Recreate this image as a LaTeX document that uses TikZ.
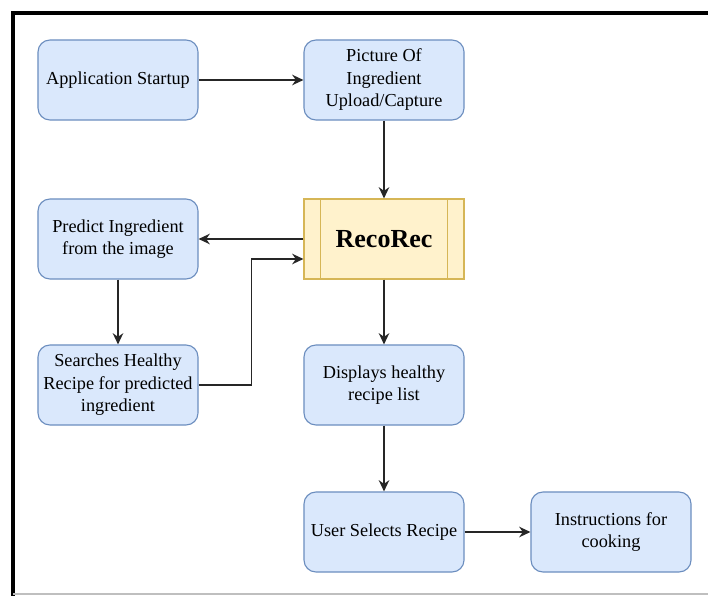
\documentclass[tikz,border=0pt]{standalone}
\usepackage{fontspec}
\setmainfont{Liberation Serif}
\usetikzlibrary{arrows.meta}
\definecolor{boxfill}{HTML}{DAE8FC}
\definecolor{boxline}{HTML}{6C8EBF}
\definecolor{corefill}{HTML}{FFF2CC}
\definecolor{coreline}{HTML}{D6B656}
\begin{document}
\begin{tikzpicture}[x=0.025cm, y=-0.025cm,
    stepbox/.style={draw=boxline, fill=boxfill, line width=0.8pt,
      rounded corners=0.3cm, minimum width=4cm, minimum height=2cm,
      align=center, font=\fontsize{13}{16}\selectfont},
    corebox/.style={draw=coreline, fill=corefill, line width=0.8pt,
      minimum width=4cm, minimum height=2cm,
      font=\bfseries\fontsize{18.5}{22}\selectfont},
    flow/.style={draw=black!85, line width=1pt, -{Stealth[length=8pt,width=7.5pt]}}]
  \useasboundingbox (0,0) rectangle (708,596);
  % frame
  \draw[line width=2.5pt] (13,596) -- (13,13) -- (708,13);
  \draw[black!25, line width=0.8pt] (13,594) -- (708,594);

  \node[stepbox] (start) at (118,80) {Application Startup};
  \node[stepbox] (upload) at (384,80) {Picture Of\\Ingredient\\Upload/Capture};
  \node[corebox] (reco) at (384,239) {RecoRec};
  \draw[coreline, line width=0.8pt]
    ([xshift=0.425cm]reco.north west) -- ([xshift=0.425cm]reco.south west)
    ([xshift=-0.425cm]reco.north east) -- ([xshift=-0.425cm]reco.south east);
  \node[stepbox] (predict) at (118,239) {Predict Ingredient\\from the image};
  \node[stepbox] (search) at (118,385) {Searches Healthy\\Recipe for predicted\\ingredient};
  \node[stepbox] (display) at (384,385) {Displays healthy\\recipe list};
  \node[stepbox] (select) at (384,532) {User Selects Recipe};
  \node[stepbox] (cook) at (611,532) {Instructions for\\cooking};

  \draw[flow] (start) -- (upload);
  \draw[flow] (upload) -- (reco);
  \draw[flow] (reco) -- (predict);
  \draw[flow] (predict) -- (search);
  \draw[flow] (search.east) -- ++(53,0) |- ([yshift=-0.5cm]reco.west);
  \draw[flow] (reco) -- (display);
  \draw[flow] (display) -- (select);
  \draw[flow] (select) -- (cook);
\end{tikzpicture}
\end{document}
